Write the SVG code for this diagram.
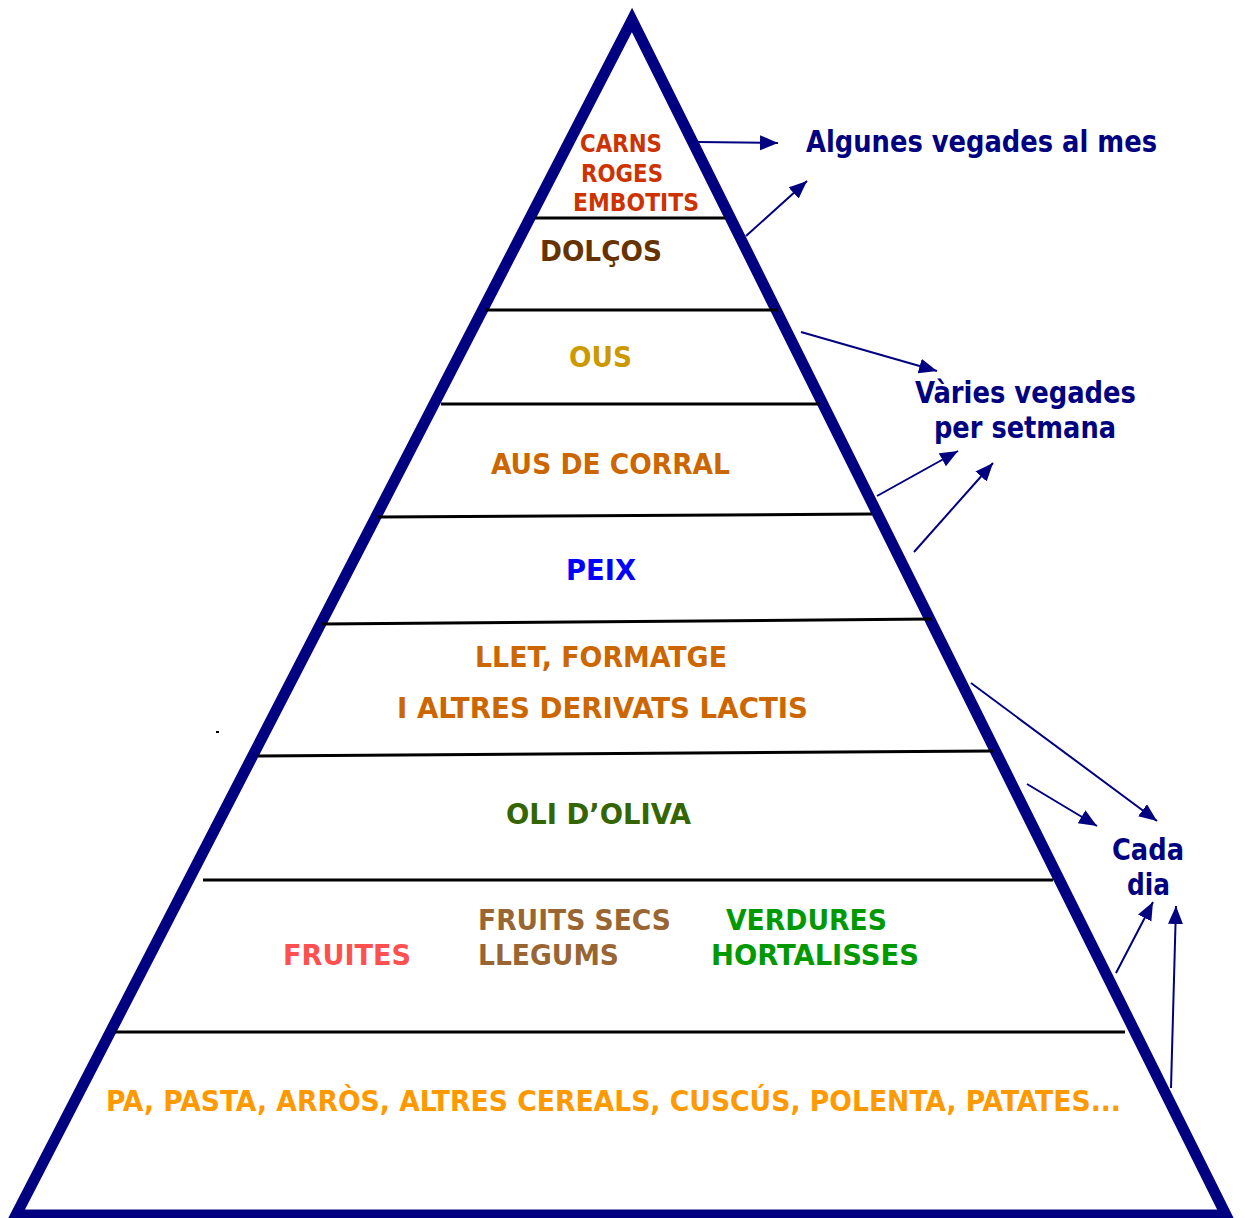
<svg xmlns="http://www.w3.org/2000/svg" width="1245" height="1218" viewBox="0 0 1245 1218">
<style>
text{font-family:"DejaVu Sans Condensed","DejaVu Sans","Liberation Sans",sans-serif;font-weight:bold;}
.t{font-size:28px;}
.s{font-size:24px;}
.n{font-size:30px;fill:#000080;}
.h{stroke:#000;stroke-width:3;fill:none;}
.a{stroke:#000080;stroke-width:2;fill:none;marker-end:url(#ah);}
</style>
<defs>
<marker id="ah" markerUnits="userSpaceOnUse" markerWidth="20" markerHeight="16" refX="18" refY="7.5" orient="auto">
<path d="M0,0 L18,7.5 L0,15 Z" fill="#000080"/>
</marker>
</defs>
<rect width="1245" height="1218" fill="#fff"/>
<g id="pyramid">
<polygon points="632,20 16,1215 1226,1215" fill="none" stroke="#000080" stroke-width="11" stroke-linejoin="miter"/>
</g>
<g id="dividers">
<line class="h" x1="535" y1="218" x2="725" y2="218"/>
<line class="h" x1="485" y1="310" x2="778" y2="310"/>
<line class="h" x1="441" y1="404" x2="820" y2="404"/>
<line class="h" x1="378" y1="517" x2="872" y2="514"/>
<line class="h" x1="322" y1="624" x2="932" y2="619"/>
<line class="h" x1="258" y1="756" x2="993" y2="751"/>
<line class="h" x1="203" y1="880" x2="1053" y2="880"/>
<line class="h" x1="115" y1="1032" x2="1125" y2="1032"/>
<rect x="216" y="731" width="3" height="2" fill="#000"/>
</g>
<g id="level-carns">
<text class="s" x="580" y="152" fill="#CC3300" textLength="82" lengthAdjust="spacingAndGlyphs">CARNS</text>
<text class="s" x="581" y="182" fill="#CC3300" textLength="82" lengthAdjust="spacingAndGlyphs">ROGES</text>
<text class="s" x="573" y="211" fill="#CC3300" textLength="126" lengthAdjust="spacingAndGlyphs">EMBOTITS</text>
</g>
<g id="level-dolcos">
<text class="t" x="540" y="261" fill="#663300" textLength="122" lengthAdjust="spacingAndGlyphs">DOLÇOS</text>
</g>
<g id="level-ous">
<text class="t" x="569" y="367" fill="#CC9900" textLength="63" lengthAdjust="spacingAndGlyphs">OUS</text>
</g>
<g id="level-aus">
<text class="t" x="491" y="474" fill="#CC6600" textLength="239" lengthAdjust="spacingAndGlyphs">AUS DE CORRAL</text>
</g>
<g id="level-peix">
<text class="t" x="566" y="580" fill="#0000FF" textLength="70" lengthAdjust="spacingAndGlyphs">PEIX</text>
</g>
<g id="level-llet">
<text class="t" x="475" y="667" fill="#CC6600" textLength="252" lengthAdjust="spacingAndGlyphs">LLET, FORMATGE</text>
<text class="t" x="397" y="718" fill="#CC6600" textLength="411" lengthAdjust="spacingAndGlyphs">I ALTRES DERIVATS LACTIS</text>
</g>
<g id="level-oli">
<text class="t" x="506" y="824" fill="#336600" textLength="185" lengthAdjust="spacingAndGlyphs">OLI D’OLIVA</text>
</g>
<g id="level-fruites">
<text class="t" x="283" y="965" fill="#FF5050" textLength="128" lengthAdjust="spacingAndGlyphs">FRUITES</text>
<text class="t" x="478" y="930" fill="#996633" textLength="193" lengthAdjust="spacingAndGlyphs">FRUITS SECS</text>
<text class="t" x="478" y="965" fill="#996633" textLength="141" lengthAdjust="spacingAndGlyphs">LLEGUMS</text>
<text class="t" x="726" y="930" fill="#009900" textLength="161" lengthAdjust="spacingAndGlyphs">VERDURES</text>
<text class="t" x="711" y="965" fill="#009900" textLength="208" lengthAdjust="spacingAndGlyphs">HORTALISSES</text>
</g>
<g id="level-pa">
<text x="106" y="1111" font-size="29" fill="#FF9900" textLength="1015" lengthAdjust="spacingAndGlyphs">PA, PASTA, ARRÒS, ALTRES CEREALS, CUSCÚS, POLENTA, PATATES...</text>
</g>
<g id="label-mes">
<text class="n" x="806" y="152" textLength="351" lengthAdjust="spacingAndGlyphs">Algunes vegades al mes</text>
</g>
<g id="label-setmana">
<text class="n" x="915" y="403" textLength="221" lengthAdjust="spacingAndGlyphs">Vàries vegades</text>
<text class="n" x="934" y="438" textLength="182" lengthAdjust="spacingAndGlyphs">per setmana</text>
</g>
<g id="label-dia">
<text class="n" x="1112" y="860" textLength="72" lengthAdjust="spacingAndGlyphs">Cada</text>
<text class="n" x="1127" y="895" textLength="43" lengthAdjust="spacingAndGlyphs">dia</text>
</g>
<g id="connectors">
<line class="a" x1="698" y1="142" x2="778" y2="143"/>
<line class="a" x1="746" y1="236" x2="807" y2="181"/>
<line class="a" x1="801" y1="332" x2="937" y2="371"/>
<line class="a" x1="877" y1="496" x2="958" y2="451"/>
<line class="a" x1="914" y1="552" x2="993" y2="463"/>
<line class="a" x1="971" y1="683" x2="1157" y2="821"/>
<line class="a" x1="1027" y1="784" x2="1097" y2="826"/>
<line class="a" x1="1116" y1="973" x2="1153" y2="902"/>
<line class="a" x1="1171" y1="1088" x2="1176" y2="906"/>
</g>
</svg>
